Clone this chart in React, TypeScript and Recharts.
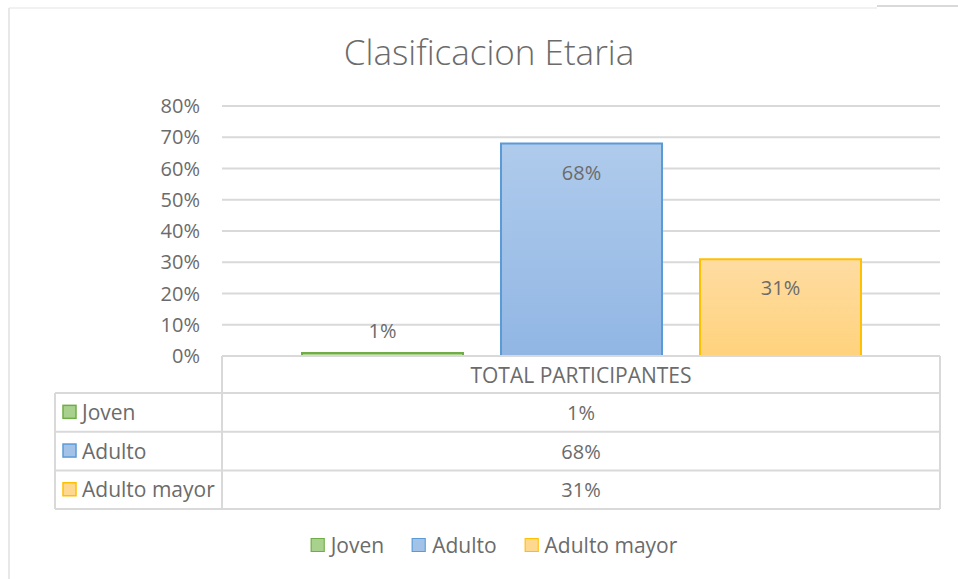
import React from 'react';
import { BarChart, Bar, XAxis, YAxis, CartesianGrid, LabelList } from 'recharts';

// ---- data ----
const title = 'Clasificacion Etaria';
const categories = ['TOTAL PARTICIPANTES'];
const seriesNames = ['Joven', 'Adulto', 'Adulto mayor'];
const jovenValues = [0.01];
const adultoValues = [0.68];
const adultoMayorValues = [0.31];
const yTicks = [0, 0.1, 0.2, 0.3, 0.4, 0.5, 0.6, 0.7, 0.8];

const seriesValues = [jovenValues, adultoValues, adultoMayorValues];
const data = categories.map((c, i) => {
  const row: Record<string, any> = { category: c };
  seriesNames.forEach((n, k) => {
    row[n] = seriesValues[k][i];
  });
  return row;
});

// ---- styles ----
const FONT = "'Open Sans', sans-serif";
const FS = 20;
const FS_T = 21;
const TXT = '#6b6b6b';
const LINE = '#d9d9d9';
const seriesStyles = [
  { stroke: '#70ad47', top: '#b4d89b', bottom: '#a3ce85', swatch: '#a9d18e' },
  { stroke: '#5b9bd5', top: '#afcbec', bottom: '#91b6e4', swatch: '#a3c2e8' },
  { stroke: '#ffc000', top: '#fedca2', bottom: '#ffd27c', swatch: '#ffd88f' },
];

const pct = (v: number) => `${Math.round(v * 100)}%`;

const renderLabel = (props: any) => {
  const { x, y, width, height, value } = props;
  const inside = height > 40;
  const ty = inside ? y + 36 : y - 15;
  return (
    <text x={x + width / 2} y={ty} textAnchor="middle" fill={TXT} fontSize={FS} fontFamily={FONT}>
      {pct(value)}
    </text>
  );
};

const renderXTick = (props: any) => {
  const { x, y, payload } = props;
  return (
    <text x={x} y={y + 27} textAnchor="middle" fill={TXT} fontSize={FS_T} fontFamily={FONT}>
      {payload.value}
    </text>
  );
};

// table geometry
const PLOT_L = 222;
const PLOT_R = 940;
const TABLE_TOP = 356;
const HEADER_B = 393;
const ROW_H = 38.7;
const LABEL_L = 55;

export default function App() {
  const tableBottom = HEADER_B + ROW_H * seriesNames.length;
  return (
    <div
      style={{
        position: 'absolute',
        left: 0,
        top: 0,
        width: 958,
        height: 579,
        background: '#fff',
        overflow: 'hidden',
        fontFamily: FONT,
      }}
    >
      <svg width={958} height={579} style={{ position: 'absolute', left: 0, top: 0 }}>
        <line x1={9} y1={8} x2={877} y2={8} stroke="#ececec" strokeWidth={1.5} />
        <line x1={9} y1={8} x2={9} y2={579} stroke="#e0e0e0" strokeWidth={1.5} />
        <line x1={877} y1={6} x2={958} y2={6} stroke={LINE} strokeWidth={2} />
        <text x={489} y={65} textAnchor="middle" fill={TXT} fontSize={35} fontFamily={FONT} fontWeight={300}>
          {title}
        </text>
      </svg>

      <div style={{ position: 'absolute', left: 0, top: 0 }}>
        <BarChart
          width={958}
          height={393}
          data={data}
          margin={{ top: 106, right: 958 - PLOT_R, bottom: 0, left: PLOT_L - 60 }}
          barCategoryGap={80}
          barGap={38}
        >
          <defs>
            {seriesStyles.map((s, i) => (
              <linearGradient key={i} id={`grad${i}`} x1="0" y1="0" x2="0" y2="1">
                <stop offset="0%" stopColor={s.top} />
                <stop offset="100%" stopColor={s.bottom} />
              </linearGradient>
            ))}
          </defs>
          <CartesianGrid vertical={false} stroke={LINE} strokeWidth={2} />
          <XAxis
            dataKey="category"
            axisLine={false}
            tickLine={false}
            tickSize={0}
            tickMargin={0}
            height={37}
            tick={renderXTick}
          />
          <YAxis
            width={60}
            domain={[0, 0.8]}
            ticks={yTicks}
            tickFormatter={pct}
            axisLine={false}
            tickLine={false}
            tickMargin={16}
            interval={0}
            tick={{ fill: TXT, fontSize: FS, fontFamily: FONT }}
          />
          {seriesNames.map((n, i) => (
            <Bar
              key={n}
              dataKey={n}
              fill={`url(#grad${i})`}
              stroke={seriesStyles[i].stroke}
              strokeWidth={2}
              isAnimationActive={false}
            >
              <LabelList dataKey={n} content={renderLabel} />
            </Bar>
          ))}
        </BarChart>
      </div>

      <svg width={958} height={579} style={{ position: 'absolute', left: 0, top: 0, pointerEvents: 'none' }}>
        <line x1={PLOT_L} y1={TABLE_TOP} x2={PLOT_R} y2={TABLE_TOP} stroke={LINE} strokeWidth={2} />
        <line x1={PLOT_L} y1={TABLE_TOP} x2={PLOT_L} y2={tableBottom} stroke={LINE} strokeWidth={2} />
        <line x1={PLOT_R} y1={TABLE_TOP} x2={PLOT_R} y2={tableBottom} stroke={LINE} strokeWidth={2} />
        <line x1={LABEL_L} y1={HEADER_B} x2={LABEL_L} y2={tableBottom} stroke={LINE} strokeWidth={2} />
        {[0, ...seriesNames.map((_, k) => k + 1)].map((k) => (
          <line
            key={k}
            x1={LABEL_L}
            y1={HEADER_B + ROW_H * k}
            x2={PLOT_R}
            y2={HEADER_B + ROW_H * k}
            stroke={LINE}
            strokeWidth={2}
          />
        ))}
        {seriesNames.map((n, k) => {
          const cy = HEADER_B + ROW_H * k + ROW_H / 2;
          return (
            <g key={n}>
              <rect x={63} y={cy - 7} width={13} height={13} fill={seriesStyles[k].swatch} stroke={seriesStyles[k].stroke} strokeWidth={1.5} />
              <text x={82} y={cy + 7.5} fill={TXT} fontSize={FS_T} fontFamily={FONT}>
                {n}
              </text>
              {categories.map((c, ci) => (
                <text key={c} x={(PLOT_L + PLOT_R) / 2} y={cy + 7.5} textAnchor="middle" fill={TXT} fontSize={FS} fontFamily={FONT}>
                  {pct(seriesValues[k][ci])}
                </text>
              ))}
            </g>
          );
        })}
      </svg>

      <div
        style={{
          position: 'absolute',
          left: 494,
          top: 531,
          transform: 'translateX(-50%)',
          display: 'flex',
          alignItems: 'center',
          whiteSpace: 'nowrap',
          color: TXT,
          fontSize: FS_T,
          fontFamily: FONT,
          lineHeight: '28px',
        }}
      >
        {seriesNames.map((n, i) => (
          <div key={n} style={{ display: 'flex', alignItems: 'center', marginLeft: i === 0 ? 0 : 28 }}>
            <span
              style={{
                display: 'inline-block',
                width: 12,
                height: 12,
                background: seriesStyles[i].swatch,
                border: `1.5px solid ${seriesStyles[i].stroke}`,
                marginRight: 6,
              }}
            />
            <span>{n}</span>
          </div>
        ))}
      </div>
    </div>
  );
}
